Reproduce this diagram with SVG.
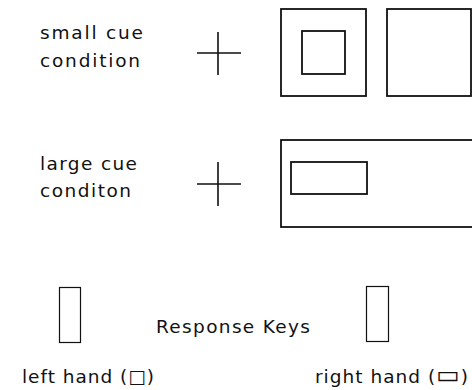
<svg xmlns="http://www.w3.org/2000/svg" width="472" height="390" viewBox="0 0 472 390">
<style>
text{font-family:"DejaVu Sans","Liberation Sans",sans-serif;font-size:18.5px;fill:#111}
.sym{font-weight:bold}
.wide{font-weight:bold;font-size:25px}
.box{fill:none;stroke:#111;stroke-width:1.8}
.key{fill:none;stroke:#111;stroke-width:1.2}
.fix{stroke:#111;stroke-width:1.6;fill:none}
</style>
<rect width="472" height="390" fill="#fff"/>
<g id="labels">
<text x="40" y="39" textLength="103" lengthAdjust="spacing">small cue</text>
<text x="40" y="67" textLength="100" lengthAdjust="spacing">condition</text>
<text x="40" y="170" textLength="97" lengthAdjust="spacing">large cue</text>
<text x="40" y="197" textLength="91" lengthAdjust="spacing">conditon</text>
</g>
<g id="fixation-small">
<path class="fix" d="M197 53H241M218 32V75"/>
</g>
<g id="fixation-large">
<path class="fix" d="M197 184H241M218 162V206"/>
</g>
<g id="small-cue-left">
<rect class="box" x="281" y="9" width="85" height="87"/>
<rect class="box" x="302" y="31" width="43" height="43"/>
</g>
<g id="small-cue-right">
<rect class="box" x="387" y="9" width="84" height="87"/>
</g>
<g id="large-cue">
<rect class="box" x="281" y="140" width="193" height="87"/>
<rect class="box" x="291" y="162" width="76" height="32"/>
</g>
<g id="left-key">
<rect class="key" x="59.5" y="287.5" width="21" height="55"/>
</g>
<g id="right-key">
<rect class="key" x="366.5" y="286.5" width="22" height="55"/>
</g>
<g id="key-labels">
<text x="156" y="333" textLength="154" lengthAdjust="spacing">Response Keys</text>
<text x="22" y="383" textLength="132" lengthAdjust="spacing">left hand (<tspan class="sym">□</tspan>)</text>
<text x="315" y="383" textLength="153" lengthAdjust="spacing">right hand (<tspan class="wide">▭</tspan>)</text>
</g>
<g id="connectors"></g>
</svg>
